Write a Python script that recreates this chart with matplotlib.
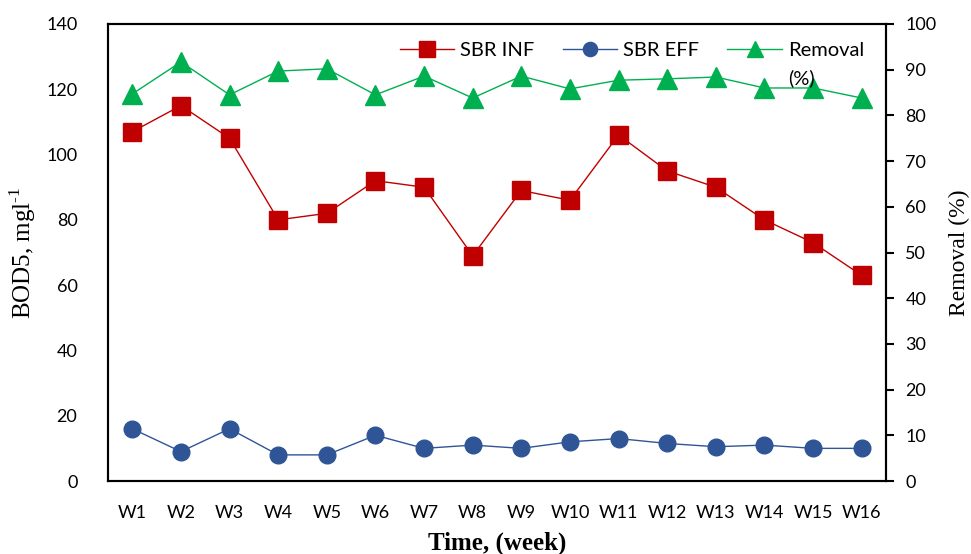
import matplotlib.pyplot as plt

weeks = ["W1", "W2", "W3", "W4", "W5", "W6", "W7", "W8",
         "W9", "W10", "W11", "W12", "W13", "W14", "W15", "W16"]
sbr_inf = [107, 115, 105, 80, 82, 92, 90, 69, 89, 86, 106, 95, 90, 80, 73, 63]
sbr_eff = [16, 9, 16, 8, 8, 14, 10, 11, 10, 12, 13, 11.5, 10.5, 11, 10, 10]
removal = [84.7, 91.7, 84.5, 89.7, 90.2, 84.5, 88.6, 83.8,
           88.6, 85.8, 87.7, 88.0, 88.4, 86.0, 86.0, 83.8]

plt.rcParams['font.family'] = ['Lato', 'DejaVu Sans']
plt.rcParams['mathtext.fontset'] = 'custom'
plt.rcParams['mathtext.rm'] = 'Liberation Serif'

fig = plt.figure(figsize=(9.71, 5.54), dpi=100)
ax = fig.add_axes([108 / 971, 1 - 481 / 554, (886 - 108) / 971, (481 - 24) / 554])
ax2 = ax.twinx()

x = list(range(len(weeks)))
l1, = ax.plot(x, sbr_inf, color="#C00000", marker="s", markersize=13, lw=1, label="SBR INF")
l2, = ax.plot(x, sbr_eff, color="#2F5597", marker="o", markersize=12, lw=1, label="SBR EFF")
l3, = ax2.plot(x, removal, color="#00B050", marker="^", markersize=14, lw=1, label="Removal")

ax.set_xlim(-0.5, 15.5)
ax.set_ylim(0, 140)
ax.set_yticks(range(0, 141, 20))
ax2.set_ylim(0, 100)
ax2.set_yticks(range(0, 101, 10))
ax.set_xticks(x)
ax.set_xticklabels(weeks)

ax.tick_params(axis="x", length=0, labelsize=13, pad=17)
ax.tick_params(axis="y", length=0, labelsize=13, pad=22)
ax2.tick_params(axis="y", length=6, width=1.5, direction="out", labelsize=13, pad=8)

for a in (ax, ax2):
    for s in a.spines.values():
        s.set_linewidth(1.5)
        s.set_color("black")

ax.set_xlabel("Time, (week)", family="Liberation Serif", fontweight="bold", fontsize=18, labelpad=8)
ax.set_ylabel("BOD5, mgl$^{\\text{-1}}$", family="Liberation Serif", fontsize=18, labelpad=6)
ax2.set_ylabel("Removal (%)", family="Liberation Serif", fontsize=17, labelpad=9)

leg = ax.legend(handles=[l1, l2, l3], loc="upper right", bbox_to_anchor=(0.995, 1.0), ncol=3,
                frameon=False, fontsize=14.5, handlelength=2.7, columnspacing=1.4,
                handletextpad=0.3, markerscale=0.85)

fig.canvas.draw()
bb = leg.get_texts()[2].get_window_extent()
fig.text(bb.x0 / fig.bbox.width, (bb.y0 - 10) / fig.bbox.height, "(%)", fontsize=14.5, va="top")

fig.savefig("out.png", dpi=100)
